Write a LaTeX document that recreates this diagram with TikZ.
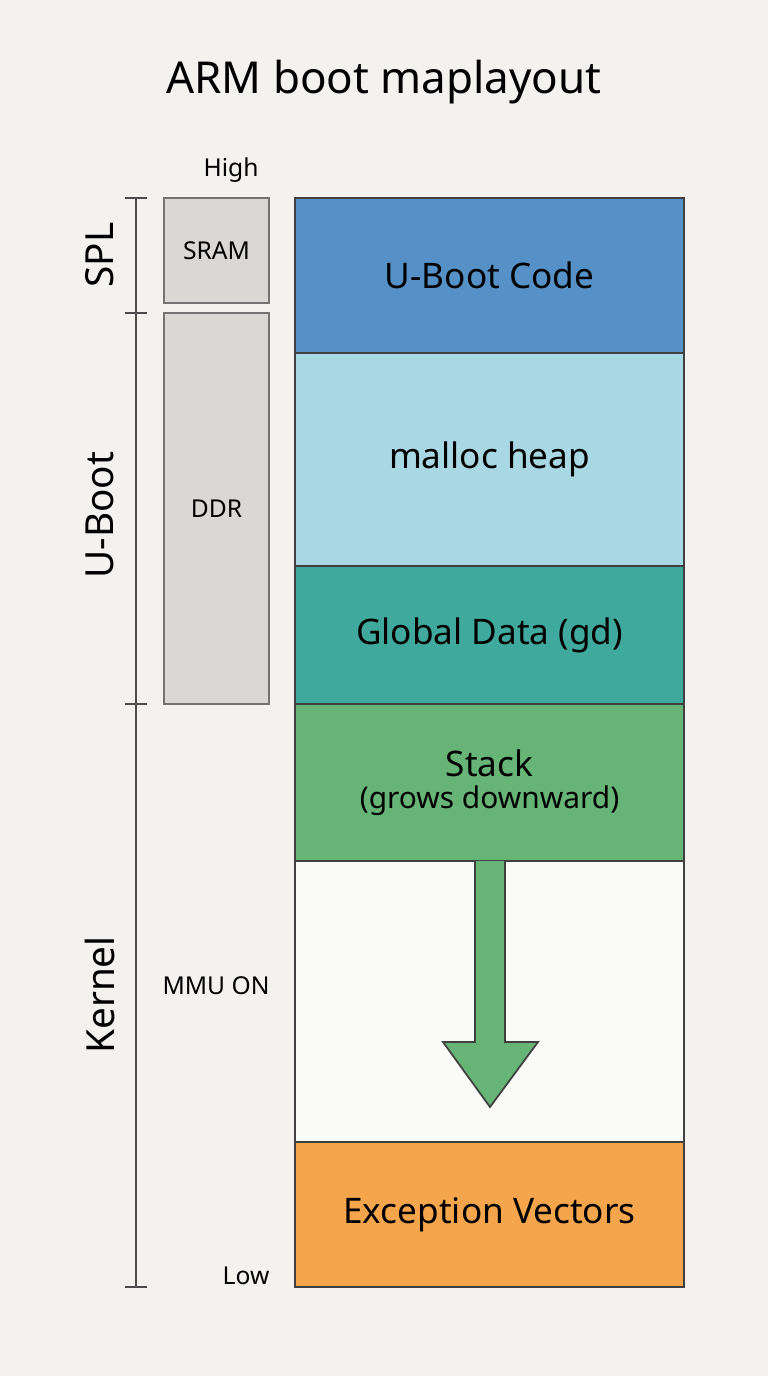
\documentclass[tikz,border=0pt]{standalone}
\usepackage{fontspec}
\setmainfont{Noto Sans}
\usepackage{tikz}
\usetikzlibrary{positioning}
\definecolor{bgcol}{HTML}{F3F2EE}
\definecolor{codecol}{HTML}{5591C6}
\definecolor{heapcol}{HTML}{A8D8E4}
\definecolor{gdcol}{HTML}{3FA99D}
\definecolor{stackcol}{HTML}{66B576}
\definecolor{veccol}{HTML}{F5A54C}
\definecolor{memcol}{HTML}{D9D8D4}
\begin{document}
\begin{tikzpicture}[x=0.01cm,y=-0.01cm]
	\tikzset{region/.style={draw=black!75,line width=0.5pt,inner sep=0pt,minimum width=3.89cm,font=\fontsize{10}{12}\selectfont},
		mem/.style={draw=black!55,fill=memcol,line width=0.5pt,inner sep=0pt,minimum width=1.05cm,font=\fontsize{7}{8}\selectfont},
		stage/.style={rotate=90,font=\fontsize{11}{13}\selectfont},
		small/.style={font=\fontsize{7}{8}\selectfont}}
	\fill[bgcol] (0,0) rectangle (768,1376);
	\node[font=\fontsize{12.5}{15}\selectfont] (title) at (384,82) {ARM boot maplayout};

	%% memory kinds
	\node[small] (high) at (231,170) {High};
	\node[mem,minimum height=1.05cm] (sram) at (216.5,250.5) {SRAM};
	\node[mem,minimum height=3.91cm] (ddr) at (216.5,508.5) {DDR};
	\node[small] (mmu) at (216,986) {MMU ON};
	\node[small] (low) at (246,1276) {Low};

	%% stage brackets
	\coordinate (b0) at (136,198);
	\coordinate (b1) at (136,313);
	\coordinate (b2) at (136,704);
	\coordinate (b3) at (136,1287);
	\draw[black!70,line width=0.5pt] (b0) -- (b3);
	\foreach \b in {b0,b1,b2,b3}
		\draw[black!70,line width=0.5pt] ([xshift=-0.11cm]\b) -- ([xshift=0.11cm]\b);
	\node[stage] (spl) at (100,255) {SPL};
	\node[stage] (uboot) at (100,515) {U-Boot};
	\node[stage] (kernel) at (100,995) {Kernel};

	%% memory map
	\node[region,fill=codecol,minimum height=1.55cm] (code) at (489.5,275.5) {U-Boot Code};
	\node[region,fill=heapcol,minimum height=2.13cm] (heap) at (489.5,459.5) {malloc heap};
	\node[region,fill=gdcol,minimum height=1.38cm] (gd) at (489.5,635) {Global Data (gd)};
	\node[region,fill=stackcol,minimum height=1.57cm,align=center] (stack) at (489.5,782.5)
		{Stack\\[-3pt]{\fontsize{8.5}{10}\selectfont(grows downward)}};
	\node[region,fill=white!60!bgcol,minimum height=2.81cm] (free) at (489.5,1001.5) {};
	\node[region,fill=veccol,minimum height=1.45cm] (vec) at (489.5,1214.5) {Exception Vectors};

	%% growth arrow
	\draw[black!75,line width=0.5pt,fill=stackcol]
		(475,861) -- (475,1042) -- (443,1042) -- (490,1107) -- (538,1042) -- (505,1042) -- (505,861);
\end{tikzpicture}
\end{document}
